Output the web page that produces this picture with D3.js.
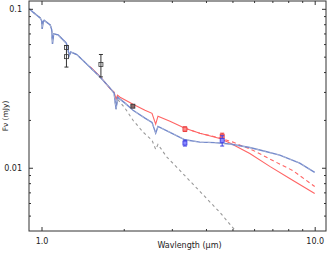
<!DOCTYPE html>
<html>
<head>
<meta charset="utf-8">
<script src="https://cdn.jsdelivr.net/npm/d3@7"></script>
<style>
  html, body { margin: 0; padding: 0; background: #fff; }
  svg { display: block; }
  text { font-family: "DejaVu Sans", sans-serif; fill: #222; }
</style>
</head>
<body>
<svg id="chart" width="328" height="254"></svg>
<script>
// model with blue (hot) disk
const blueWave = [0.902, 0.933, 0.989, 1.002, 1.006, 1.014, 1.023, 1.076, 1.090, 1.097, 1.108, 1.151, 1.231, 1.247, 1.262, 1.279, 1.347, 1.639, 1.782, 1.844, 1.875, 1.898, 2.022, 2.163, 2.392, 2.538, 2.618, 2.669, 2.953, 3.350, 3.800, 4.311, 4.891, 5.788, 6.567, 7.450, 8.814, 10.0];
const blueFlux = [0.100, 0.0950, 0.0877, 0.0840, 0.0747, 0.0828, 0.0846, 0.0792, 0.0737, 0.0601, 0.0695, 0.0685, 0.0610, 0.0575, 0.0505, 0.0535, 0.0516, 0.0372, 0.0317, 0.0295, 0.0234, 0.0278, 0.0255, 0.0230, 0.0205, 0.0193, 0.0165, 0.0182, 0.0167, 0.0150, 0.0145, 0.0144, 0.0141, 0.0134, 0.0127, 0.0120, 0.0107, 0.00934];

// model with red (cool) disk
const redWave = [1.506, 1.639, 1.782, 1.844, 1.875, 1.898, 1.939, 2.163, 2.392, 2.538, 2.618, 2.669, 2.953, 3.350, 3.800, 4.497, 4.891, 5.788, 6.848, 8.102, 10.0];
const redFlux = [0.0433, 0.0375, 0.0315, 0.0299, 0.0270, 0.0286, 0.0278, 0.0251, 0.0230, 0.0220, 0.0188, 0.0211, 0.0196, 0.0177, 0.0165, 0.0153, 0.0143, 0.0123, 0.0102, 0.00856, 0.00688];

// alternative red model (dashed)
const redAltWave = [3.350, 3.800, 4.497, 5.016, 5.936, 7.023, 8.309, 10.0];
const redAltFlux = [0.0177, 0.0165, 0.0154, 0.0145, 0.0129, 0.0111, 0.00961, 0.00762];

// stellar photosphere (gray dashed)
const photWave = [0.902, 0.933, 0.989, 1.002, 1.006, 1.014, 1.023, 1.076, 1.090, 1.097, 1.108, 1.151, 1.231, 1.247, 1.262, 1.279, 1.347, 1.639, 1.782, 1.844, 1.875, 1.898, 2.022, 2.163, 2.352, 2.538, 2.618, 2.669, 2.872, 3.159, 4.497, 5.2];
const photFlux = [0.100, 0.0950, 0.0877, 0.0840, 0.0747, 0.0828, 0.0846, 0.0792, 0.0737, 0.0601, 0.0695, 0.0685, 0.0610, 0.0575, 0.0505, 0.0535, 0.0516, 0.0372, 0.0317, 0.0295, 0.0234, 0.0270, 0.0237, 0.0199, 0.0168, 0.0149, 0.01305, 0.01404, 0.0117, 0.00990, 0.00524, 0.0039];

// photometry: [wavelength, flux, low, high]
const blackPts = [[1.234, 0.0571, 0.0571, 0.0571], [1.234, 0.0500, 0.0430, 0.0588], [1.65, 0.0447, 0.0373, 0.0516], [2.16, 0.0244, 0.0240, 0.0248]];
const redPts = [[3.35, 0.0175, 0.0169, 0.0181], [4.585, 0.0158, 0.0149, 0.0165]];
const bluePts = [[3.35, 0.0143, 0.0137, 0.0149], [4.585, 0.01487, 0.0137, 0.0159]];

const xMajor = [1, 10];
const xMajorLabels = ['1.0', '10.0'];
const xMinor = [2, 3, 4, 5, 6, 7, 8, 9];
const yMajor = [0.01, 0.1];
const yMajorLabels = ['0.01', '0.1'];
const yMinor = [0.005, 0.006, 0.007, 0.008, 0.009, 0.02, 0.03, 0.04, 0.05, 0.06, 0.07, 0.08, 0.09];

const colors = {
  blue: '#7389cc',
  red: '#ff6464',
  gray: '#9a9a9a',
  axis: '#333'
};

const margin = { left: 29, right: 2, top: 1, bottom: 23 };
const width = 328, height = 254;

const svg = d3.select('#chart');

const x = d3.scaleLog().domain([0.9, 11]).range([margin.left, width - margin.right]);
const y = d3.scaleLog().domain([0.004, 0.112]).range([height - margin.bottom, margin.top]);

svg.append('defs').append('clipPath').attr('id', 'clip')
  .append('rect')
  .attr('x', margin.left).attr('y', margin.top)
  .attr('width', width - margin.left - margin.right)
  .attr('height', height - margin.top - margin.bottom);

const plot = svg.append('g').attr('clip-path', 'url(#clip)');

const line = d3.line().x(d => x(d[0])).y(d => y(d[1]));
const zip = (a, b) => a.map((v, i) => [v, b[i]]);

plot.append('path').datum(zip(photWave, photFlux))
  .attr('d', line).attr('fill', 'none')
  .attr('stroke', colors.gray).attr('stroke-width', 1.1)
  .attr('stroke-dasharray', '3,3');

plot.append('path').datum(zip(redWave, redFlux))
  .attr('d', line).attr('fill', 'none')
  .attr('stroke', colors.red).attr('stroke-width', 1.1);

plot.append('path').datum(zip(redAltWave, redAltFlux))
  .attr('d', line).attr('fill', 'none')
  .attr('stroke', colors.red).attr('stroke-width', 1.1)
  .attr('stroke-dasharray', '4,3');

plot.append('path').datum(zip(blueWave, blueFlux))
  .attr('d', line).attr('fill', 'none')
  .attr('stroke', colors.blue).attr('stroke-width', 1.4);

// light dashes running over the blue model
plot.append('path').datum(zip(blueWave, blueFlux))
  .attr('d', line).attr('fill', 'none')
  .attr('stroke', '#b4bdd6').attr('stroke-width', 0.8)
  .attr('stroke-dasharray', '3,4');

const drawPoints = (pts, stroke, fill) => {
  const g = plot.append('g');
  g.selectAll('line.err').data(pts).join('line')
    .attr('x1', d => x(d[0])).attr('x2', d => x(d[0]))
    .attr('y1', d => y(d[2])).attr('y2', d => y(d[3]))
    .attr('stroke', stroke).attr('stroke-width', 1);
  g.selectAll('line.capLo').data(pts.filter(d => d[2] !== d[3])).join('line')
    .attr('x1', d => x(d[0]) - 2).attr('x2', d => x(d[0]) + 2)
    .attr('y1', d => y(d[2])).attr('y2', d => y(d[2]))
    .attr('stroke', stroke).attr('stroke-width', 1);
  g.selectAll('line.capHi').data(pts.filter(d => d[2] !== d[3])).join('line')
    .attr('class', 'capHi')
    .attr('x1', d => x(d[0]) - 2).attr('x2', d => x(d[0]) + 2)
    .attr('y1', d => y(d[3])).attr('y2', d => y(d[3]))
    .attr('stroke', stroke).attr('stroke-width', 1);
  g.selectAll('rect').data(pts).join('rect')
    .attr('x', d => x(d[0]) - 2).attr('y', d => y(d[1]) - 2)
    .attr('width', 4).attr('height', 4)
    .attr('fill', fill).attr('stroke', stroke).attr('stroke-width', 0.8);
};

drawPoints(blackPts, '#333', 'none');
plot.selectAll('rect').filter(d => d[0] === 2.16).attr('fill', '#8a6a6a');
drawPoints(redPts, '#e83a3a', '#ff8a8a');
drawPoints(bluePts, '#3a3ae0', '#8a8aff');

// axes: ticks pointing inward on all four sides
const axisG = svg.append('g');
const addAxis = (axis, transform) => {
  const g = axisG.append('g').attr('transform', transform).call(axis);
  g.select('.domain').remove();
  g.selectAll('line').attr('stroke', colors.axis);
  g.selectAll('text').style('font-family', '"DejaVu Sans", sans-serif').attr('font-size', 8).attr('fill', '#222');
  return g;
};

const bottom = height - margin.bottom, right = width - margin.right;

addAxis(d3.axisBottom(x).tickValues(xMajor).tickFormat((d, i) => xMajorLabels[i]).tickSizeInner(-4).tickSizeOuter(0).tickPadding(7), `translate(0,${bottom})`);
addAxis(d3.axisBottom(x).tickValues(xMinor).tickFormat('').tickSizeInner(-2).tickSizeOuter(0), `translate(0,${bottom})`);
addAxis(d3.axisTop(x).tickValues(xMajor).tickFormat('').tickSizeInner(-4).tickSizeOuter(0), `translate(0,${margin.top})`);
addAxis(d3.axisTop(x).tickValues(xMinor).tickFormat('').tickSizeInner(-2).tickSizeOuter(0), `translate(0,${margin.top})`);
addAxis(d3.axisLeft(y).tickValues(yMajor).tickFormat((d, i) => yMajorLabels[i]).tickSizeInner(-4).tickSizeOuter(0).tickPadding(7), `translate(${margin.left},0)`);
addAxis(d3.axisLeft(y).tickValues(yMinor).tickFormat('').tickSizeInner(-2).tickSizeOuter(0), `translate(${margin.left},0)`);
addAxis(d3.axisRight(y).tickValues(yMajor).tickFormat('').tickSizeInner(-4).tickSizeOuter(0), `translate(${right},0)`);
addAxis(d3.axisRight(y).tickValues(yMinor).tickFormat('').tickSizeInner(-2).tickSizeOuter(0), `translate(${right},0)`);

axisG.append('rect')
  .attr('x', margin.left).attr('y', margin.top)
  .attr('width', right - margin.left).attr('height', bottom - margin.top)
  .attr('fill', 'none').attr('stroke', colors.axis).attr('stroke-width', 1);

svg.append('text')
  .attr('x', (margin.left + right) / 2 + 12).attr('y', 248)
  .attr('text-anchor', 'middle').attr('font-size', 8)
  .text('Wavlength (\u03bcm)');

svg.append('text')
  .attr('transform', 'translate(8,116) rotate(-90)')
  .attr('text-anchor', 'middle').attr('font-size', 7.5)
  .text('F\u03bd (mJy)');
</script>
</body>
</html>
